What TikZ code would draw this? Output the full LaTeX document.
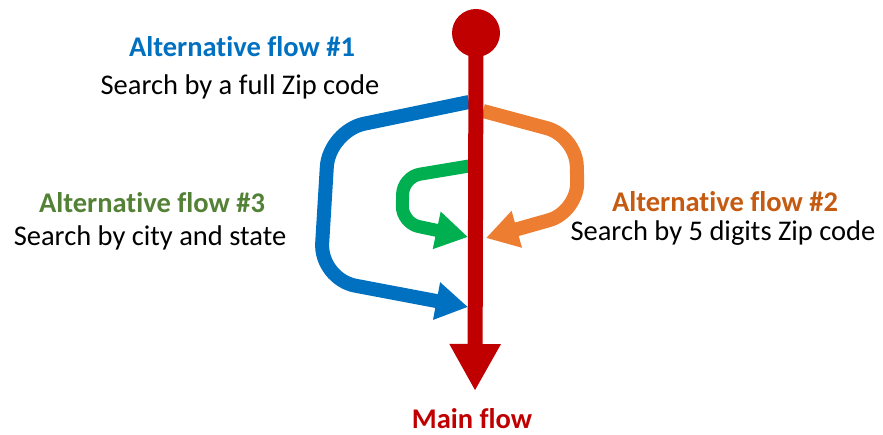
\documentclass[tikz,border=0pt]{standalone}
\usepackage{fontspec}
\setmainfont{Carlito}[Ligatures=NoCommon]
\usetikzlibrary{arrows.meta}
\definecolor{cblue}{HTML}{0070C0}
\definecolor{corange}{HTML}{ED7D31}
\definecolor{corangetxt}{HTML}{C55A11}
\definecolor{cgreen}{HTML}{00B050}
\definecolor{cgreentxt}{HTML}{538135}
\definecolor{cred}{HTML}{C00000}
\tikzset{
  title/.style={anchor=base, inner sep=0pt, font=\fontsize{28.5}{30}\selectfont\bfseries},
  desc/.style={anchor=base, inner sep=0pt, font=\fontsize{28.5}{30}\selectfont, text=black},
  flow/.style={line width=14pt, -{Triangle[length=32pt,width=36pt]}},
}
\begin{document}
\begin{tikzpicture}[x=1pt,y=-1pt]
\useasboundingbox (0,0) rectangle (883,435);
% coordinates
\coordinate (top) at (476,33);
\coordinate (redstart) at (476,45);
\coordinate (redend) at (475,391);
\coordinate (b0) at (469,102);
\coordinate (b1) at (329,131);
\coordinate (b2) at (320,279);
\coordinate (b3) at (468,307);
\coordinate (o0) at (483,111);
\coordinate (o1) at (576,136);
\coordinate (o2) at (578,212);
\coordinate (o3) at (486,238);
\coordinate (g0) at (469,166);
\coordinate (g1) at (403,177);
\coordinate (g2) at (402,223);
\coordinate (g3) at (468,237);
% flows
\draw[flow, cblue, rounded corners=36pt] (b0) -- (b1) -- (b2) -- (b3);
\draw[flow, corange, rounded corners=30pt] (o0) -- (o1) -- (o2) -- (o3);
\draw[flow, cgreen, line width=13pt, rounded corners=17pt] (g0) -- (g1) -- (g2) -- (g3);
% main flow
\draw[cred, line width=15pt, -{Triangle[length=47pt,width=48pt]}] (redstart) -- (redend);
\fill[cred] (top) circle (24pt);
% labels
\node[title, text=cblue] (alt1) at (242,57) {Alternative flow \#1};
\node[desc] (s1) at (240,95) {Search by a full Zip code};
\node[title, text=corangetxt] (alt2) at (725,212) {Alternative flow \#2};
\node[desc] (s2) at (723,241) {Search by 5 digits Zip code};
\node[title, text=cgreentxt] (alt3) at (152,213) {Alternative flow \#3};
\node[desc] (s3) at (150,246) {Search by city and state};
\node[title, text=cred] (mainflow) at (472,428) {Main flow};
\end{tikzpicture}
\end{document}
